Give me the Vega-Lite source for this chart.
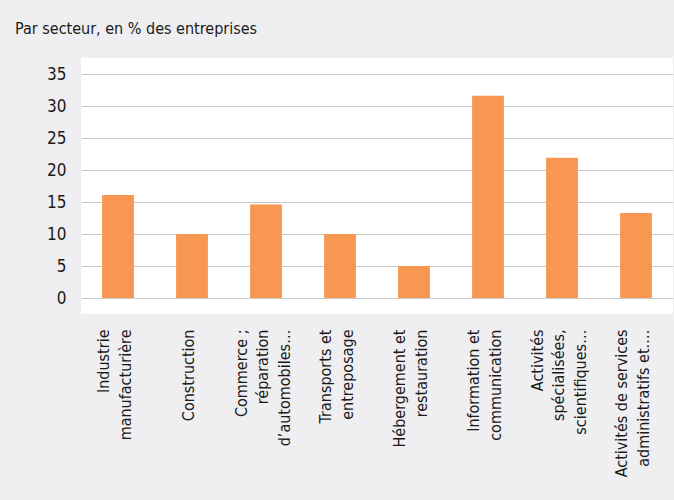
{
  "$schema": "https://vega.github.io/schema/vega-lite/v6.json",
  "autosize": {"type": "none"},
  "padding": {"left": 81, "top": 58, "right": 1, "bottom": 186},
  "width": 592,
  "height": 256,
  "background": "#efeff1",
  "title": {
    "text": "Par secteur, en % des entreprises",
    "anchor": "start",
    "frame": "group",
    "dx": -66,
    "offset": 21,
    "font": "DejaVu Sans Condensed, sans-serif",
    "fontSize": 16,
    "fontWeight": "normal",
    "color": "#1a1a1a"
  },
  "data": {
    "values": [
      {"secteur": "Industrie|manufacturière", "valeur": 16.1},
      {"secteur": "Construction", "valeur": 10.0},
      {"secteur": "Commerce ;|réparation|d’automobiles…", "valeur": 14.6},
      {"secteur": "Transports et|entreposage", "valeur": 10.0},
      {"secteur": "Hébergement et|restauration", "valeur": 5.0},
      {"secteur": "Information et|communication", "valeur": 31.6},
      {"secteur": "Activités|spécialisées,|scientifiques…", "valeur": 21.9},
      {"secteur": "Activités de services|administratifs et.…", "valeur": 13.3}
    ]
  },
  "mark": {"type": "bar", "color": "#f79752"},
  "encoding": {
    "x": {
      "field": "secteur",
      "type": "nominal",
      "sort": null,
      "scale": {"paddingInner": 0.57, "paddingOuter": 0.285},
      "axis": {
        "title": null,
        "labelAngle": -90,
        "labelAlign": "right",
        "labelBaseline": "middle",
        "labelPadding": 15,
        "labelExpr": "split(datum.label, '|')",
        "labelLineHeight": 21.5,
        "labelFont": "DejaVu Sans Condensed, sans-serif",
        "labelFontSize": 16,
        "labelColor": "#1a1a1a",
        "labelLimit": 0,
        "labelOffset": {
          "condition": [
            {"test": "length(split(datum.value, '|')) == 3", "value": -24.5},
            {"test": "length(split(datum.value, '|')) == 2", "value": -13.75}
          ],
          "value": -3
        },
        "ticks": false,
        "domain": false,
        "grid": false
      }
    },
    "y": {
      "field": "valeur",
      "type": "quantitative",
      "scale": {"domain": [-2.5, 37.5], "nice": false, "zero": false},
      "axis": {
        "title": null,
        "values": [0, 5, 10, 15, 20, 25, 30, 35],
        "labelPadding": 15,
        "labelFont": "DejaVu Sans Condensed, sans-serif",
        "labelFontSize": 17,
        "labelColor": "#1a1a1a",
        "ticks": false,
        "domain": false,
        "grid": true,
        "gridColor": "#c6c6c6",
        "gridWidth": 1.2
      }
    },
    "y2": {"datum": 0}
  },
  "config": {
    "view": {"fill": "white", "stroke": null}
  }
}
